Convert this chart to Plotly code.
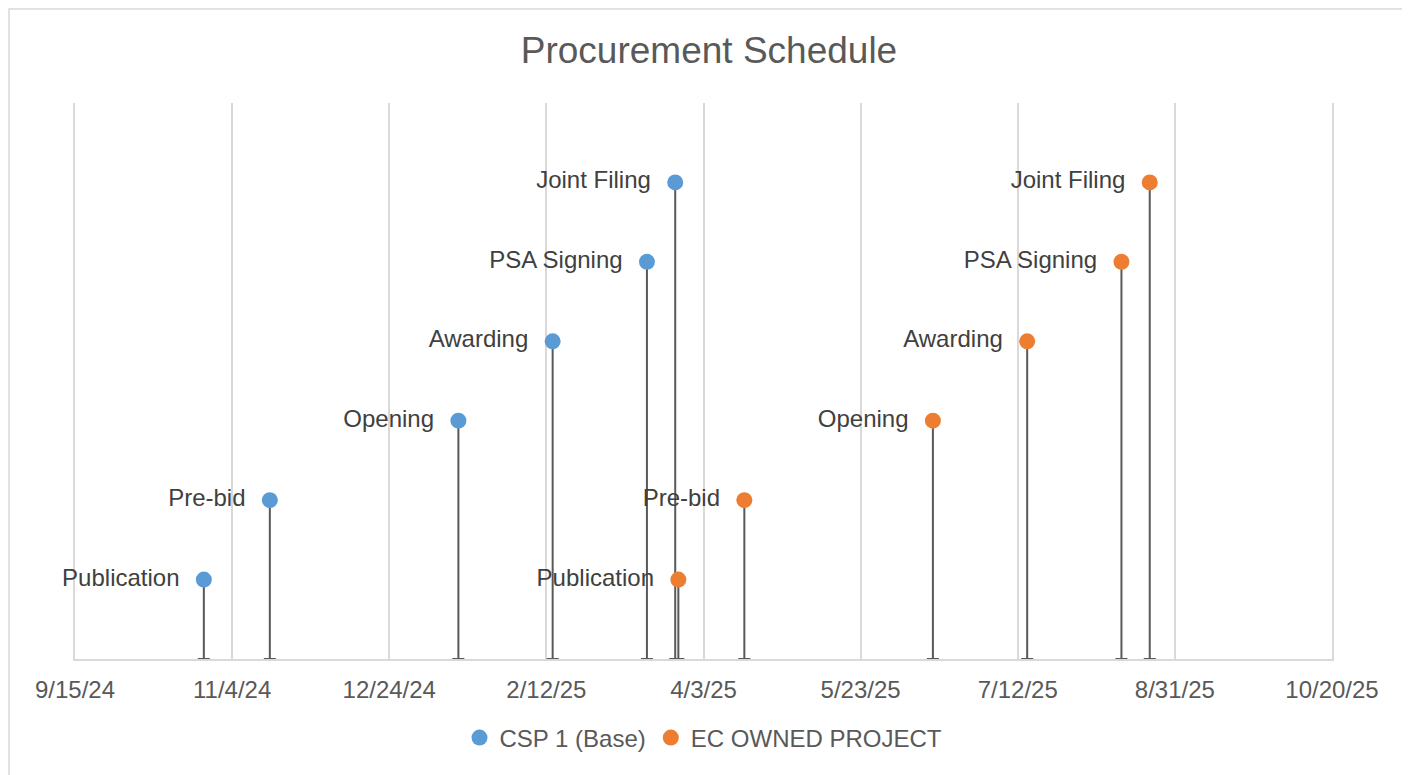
import plotly.graph_objects as go

# Données
etapes = ["Publication", "Pre-bid", "Opening", "Awarding", "PSA Signing", "Joint Filing"]
niveaux = [1, 2, 3, 4, 5, 6]

dates_csp = ["2024-10-26", "2024-11-16", "2025-01-15", "2025-02-14", "2025-03-16", "2025-03-25"]
dates_ec = ["2025-03-26", "2025-04-16", "2025-06-15", "2025-07-15", "2025-08-14", "2025-08-23"]

GRIS_TXT = "#595959"
GRIS_LIGNE = "#595959"
GRIS_GRILLE = "#d9d9d9"
POLICE = "Liberation Sans, Arial"

# la page HTML a une marge de 8 px autour du graphique
DECALAGE = 8
L, R, T, B = 75, 1332, 103, 659          # zone de tracé visée (px, page)
LARG, HAUT = 1410 - DECALAGE, 775 - DECALAGE

fig = go.Figure()


def ajoute_serie(dates, nom, couleur):
    fig.add_trace(go.Scatter(
        x             = dates,
        y             = niveaux,
        name          = nom,
        mode          = "markers+text",
        text          = [e + "\u00a0\u00a0" for e in etapes],
        textposition  = "middle left",
        textfont      = dict(size=24, color="#404040", family=POLICE),
        marker        = dict(size=16, color=couleur),
        cliponaxis    = False,
        error_y       = dict(
            type="data", symmetric=False, array=[0] * len(niveaux),
            arrayminus=niveaux, color=GRIS_LIGNE, thickness=2, width=6,
        ),
        hovertemplate = "%{text}<br>%{x|%m/%d/%Y}<extra></extra>",
    ))


ajoute_serie(dates_csp, "CSP 1 (Base)", "#5b9bd5")
ajoute_serie(dates_ec, "EC OWNED PROJECT", "#ed7d31")

fig.update_layout(
    width         = LARG,
    height        = HAUT,
    margin        = dict(l=L - DECALAGE, r=LARG + DECALAGE - R, t=T - DECALAGE, b=HAUT + DECALAGE - B),
    title         = dict(text="Procurement Schedule", x=0.5, xanchor="center",
                         y=1 - (50 - DECALAGE) / HAUT, yanchor="middle",
                         font=dict(size=37, color=GRIS_TXT)),
    font          = dict(family=POLICE, color=GRIS_TXT),
    xaxis = dict(
        type="date", range=["2024-09-15", "2025-10-20"],
        tick0="2024-09-15", dtick=50 * 86400000, tickformat="%-m/%-d/%y",
        showgrid=True, gridcolor=GRIS_GRILLE, gridwidth=1.5,
        showline=True, linecolor=GRIS_GRILLE, linewidth=2,
        ticks="", ticklabelstandoff=8, tickfont=dict(size=24, color=GRIS_TXT),
        zeroline=False, layer="below traces",
    ),
    # lignes verticales aux deux bords de la zone de tracé
    yaxis = dict(range=[0, 7], showgrid=False, showticklabels=False, zeroline=False,
                 showline=True, mirror=True, linecolor=GRIS_GRILLE, linewidth=1.5,
                 layer="below traces"),
    showlegend    = True,
    legend        = dict(orientation="h", yanchor="middle", y=(B - 738) / (B - T), xanchor="center",
                         x=0.5, font=dict(size=24, color=GRIS_TXT), itemwidth=30,
                         itemclick=False),
    paper_bgcolor = "white",
    plot_bgcolor  = "white",
    shapes = [dict(
        type="rect", xref="paper", yref="paper",
        x0=(9 - L) / (R - L), x1=(1406 - L) / (R - L),
        y0=(B - 790) / (B - T), y1=(B - 9) / (B - T),
        line=dict(color=GRIS_GRILLE, width=1.5), layer="below",
    )],
)

fig.write_html("out.html")
